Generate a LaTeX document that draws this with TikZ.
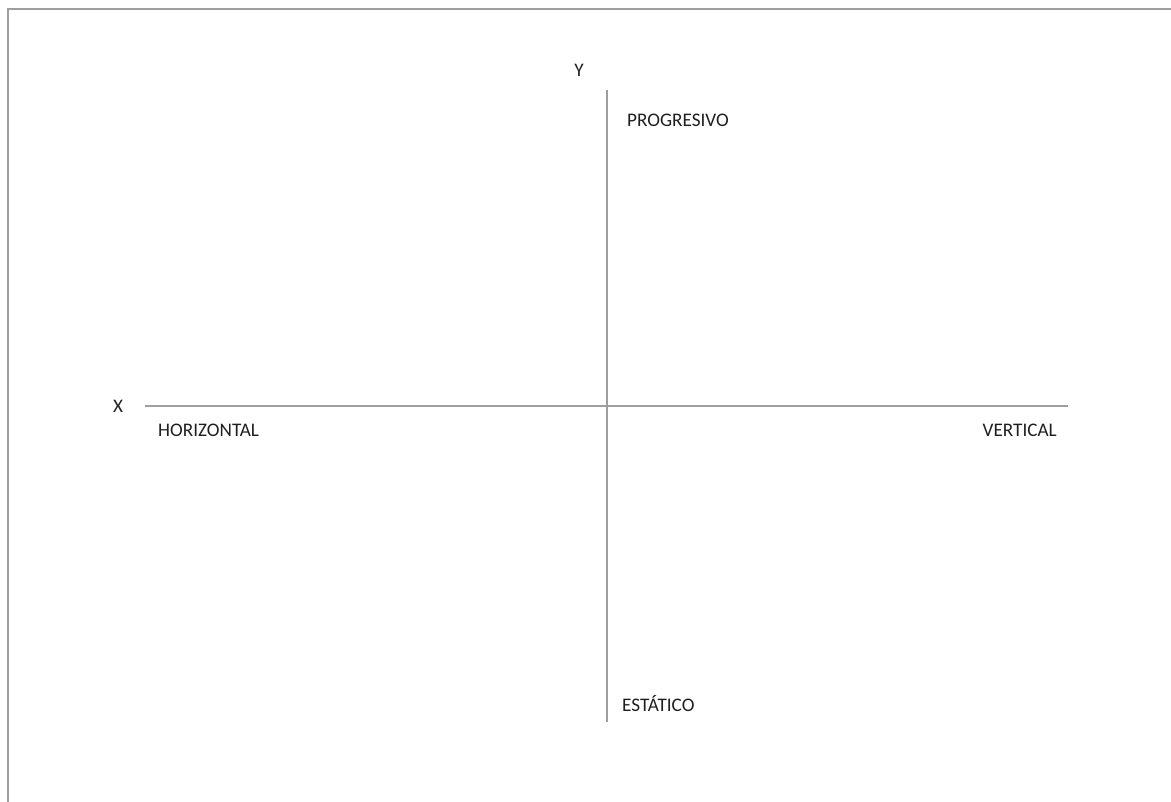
\documentclass[tikz,border=0pt]{standalone}
\usepackage{fontspec}
\setmainfont{Carlito}
\begin{document}
\begin{tikzpicture}[x=1pt,y=-1pt,
  axis/.style={draw=black!38, line width=1.2pt},
  frame/.style={draw=black!38, line width=2pt},
  lbl/.style={inner sep=0pt, font=\fontsize{19.2}{21}\selectfont, text=black!88}]
\useasboundingbox (0,0) rectangle (1171,802);
\draw[frame] (8,802) -- (8,9.5) -- (1171,9.5);
\coordinate (xl) at (145,406);
\coordinate (xr) at (1068,406);
\coordinate (yt) at (607,90);
\coordinate (yb) at (607,722);
\draw[axis] (xl) -- (xr);
\draw[axis] (yt) -- (yb);
\node[lbl] (Y) at (579,70) {Y};
\node[lbl, anchor=west] (prog) at (627,120) {PROGRESIVO};
\node[lbl] (X) at (118,406) {X};
\node[lbl, anchor=west] (hor) at (158,430) {HORIZONTAL};
\node[lbl, anchor=east] (ver) at (1057,430) {VERTICAL};
\node[lbl, anchor=west] (est) at (622,704) {ESTÁTICO};
\end{tikzpicture}
\end{document}
